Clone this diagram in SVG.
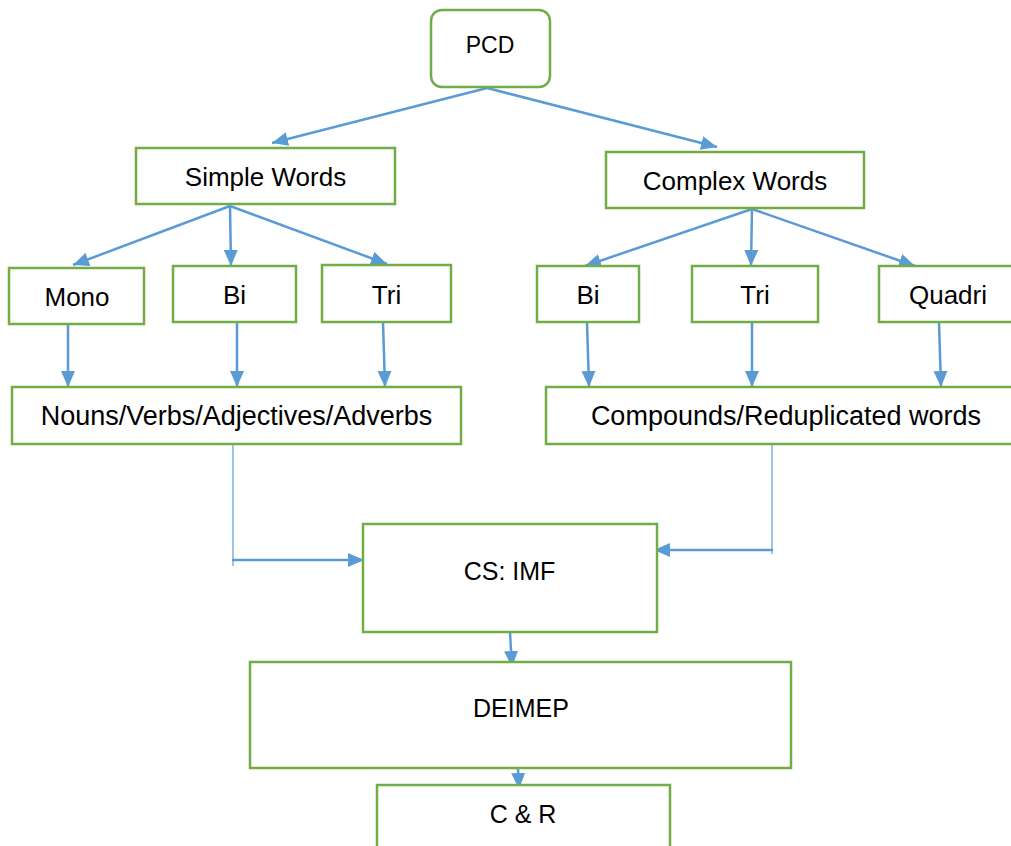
<svg xmlns="http://www.w3.org/2000/svg" width="1011" height="846" viewBox="0 0 1011 846">
<style>
.box{fill:#fff;stroke:#70AD47;stroke-width:2.5}
.t{font-family:"Liberation Sans",Arial,sans-serif;font-size:26px;fill:#000;text-anchor:middle}
.c{stroke:#5B9BD5;stroke-width:2.5;fill:none}
.thin{stroke:#7EB1E0;stroke-width:1.5;fill:none}
</style>
<defs>
<marker id="ah" markerUnits="userSpaceOnUse" markerWidth="17" markerHeight="15" refX="16" refY="7" orient="auto">
<path d="M0,0 L16,7 L0,14 z" fill="#5B9BD5"/>
</marker>
</defs>
<rect width="1011" height="846" fill="#fff"/>
<g id="connectors">
<line class="c" x1="487" y1="88" x2="272" y2="143" marker-end="url(#ah)"/>
<line class="c" x1="487" y1="88" x2="717" y2="147" marker-end="url(#ah)"/>
<line class="c" x1="230" y1="206" x2="73" y2="265" marker-end="url(#ah)"/>
<line class="c" x1="230" y1="206" x2="231" y2="266" marker-end="url(#ah)"/>
<line class="c" x1="230" y1="206" x2="387" y2="264" marker-end="url(#ah)"/>
<line class="c" x1="752" y1="209" x2="585" y2="266" marker-end="url(#ah)"/>
<line class="c" x1="752" y1="209" x2="751" y2="266" marker-end="url(#ah)"/>
<line class="c" x1="752" y1="209" x2="915" y2="266" marker-end="url(#ah)"/>
<line class="c" x1="68" y1="324" x2="68" y2="387" marker-end="url(#ah)"/>
<line class="c" x1="237" y1="322" x2="237" y2="387" marker-end="url(#ah)"/>
<line class="c" x1="383" y1="322" x2="385" y2="387" marker-end="url(#ah)"/>
<line class="c" x1="587" y1="322" x2="589" y2="387" marker-end="url(#ah)"/>
<line class="c" x1="752" y1="322" x2="752" y2="387" marker-end="url(#ah)"/>
<line class="c" x1="939" y1="322" x2="941" y2="387" marker-end="url(#ah)"/>
<line class="thin" x1="233" y1="445" x2="233" y2="566"/>
<line class="c" x1="232" y1="560" x2="364" y2="560" marker-end="url(#ah)"/>
<line class="thin" x1="772" y1="445" x2="772" y2="554"/>
<line class="c" x1="773" y1="550" x2="654" y2="550" marker-end="url(#ah)"/>
<line class="c" x1="510" y1="633" x2="512" y2="667" marker-end="url(#ah)"/>
<line class="c" x1="518" y1="769" x2="519" y2="789" marker-end="url(#ah)"/>
</g>
<g id="pcd"><rect class="box" x="431" y="10" width="119" height="77" rx="11"/><text class="t" x="490" y="53" style="font-size:23px">PCD</text></g>
<g id="simple-words"><rect class="box" x="136" y="148" width="259" height="56"/><text class="t" x="265.5" y="186">Simple Words</text></g>
<g id="complex-words"><rect class="box" x="606" y="152" width="258" height="56"/><text class="t" x="735" y="190">Complex Words</text></g>
<g id="mono"><rect class="box" x="9" y="268" width="135" height="56"/><text class="t" x="77" y="306">Mono</text></g>
<g id="bi-left"><rect class="box" x="173" y="266" width="123" height="56"/><text class="t" x="234.5" y="304">Bi</text></g>
<g id="tri-left"><rect class="box" x="322" y="265" width="129" height="57"/><text class="t" x="386.5" y="304">Tri</text></g>
<g id="bi-right"><rect class="box" x="537" y="266" width="102" height="56"/><text class="t" x="588" y="304">Bi</text></g>
<g id="tri-right"><rect class="box" x="692" y="266" width="126" height="56"/><text class="t" x="755" y="304">Tri</text></g>
<g id="quadri"><rect class="box" x="879" y="266" width="140" height="56"/><text class="t" x="948" y="304">Quadri</text></g>
<g id="nouns"><rect class="box" x="12" y="387" width="449" height="57"/><text class="t" x="236.5" y="425" style="font-size:27px">Nouns/Verbs/Adjectives/Adverbs</text></g>
<g id="compounds"><rect class="box" x="546" y="387" width="475" height="57"/><text class="t" x="786" y="425" style="font-size:27px">Compounds/Reduplicated words</text></g>
<g id="cs-imf"><rect class="box" x="363" y="524" width="294" height="108"/><text class="t" x="509.5" y="580" style="font-size:25px">CS: IMF</text></g>
<g id="deimep"><rect class="box" x="250" y="662" width="541" height="106"/><text class="t" x="521" y="717" style="font-size:25px">DEIMEP</text></g>
<g id="c-r"><rect class="box" x="377" y="785" width="293" height="80"/><text class="t" x="523" y="823" style="font-size:25px">C &amp; R</text></g>
</svg>
